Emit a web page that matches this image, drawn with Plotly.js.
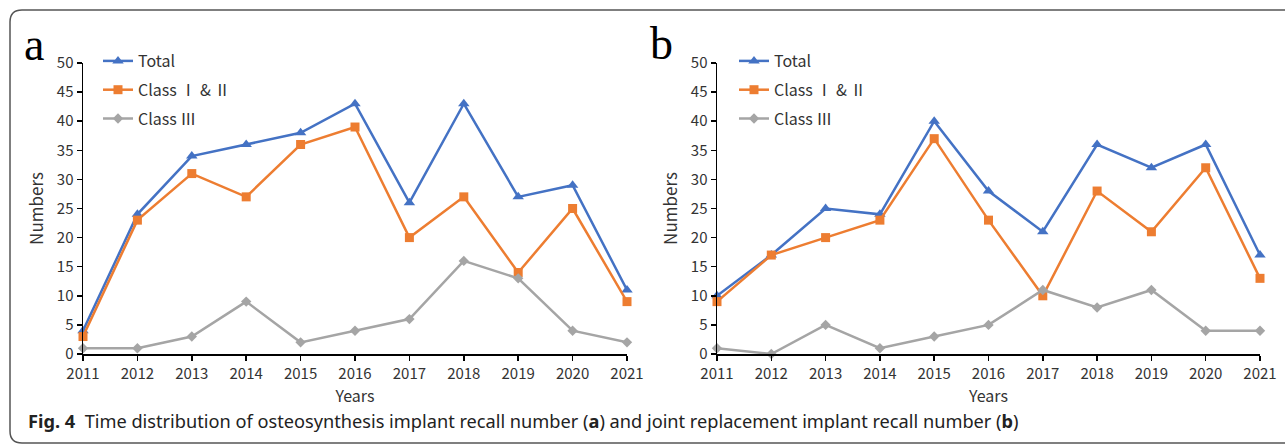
<!DOCTYPE html>
<html>
<head>
<meta charset="utf-8">
<script src="https://cdn.plot.ly/plotly-3.0.1.min.js"></script>
<style>html,body{margin:0;padding:0;background:#fff;}#chart{width:1285px;height:444px;}</style>
</head>
<body>
<div id="chart"></div>
<script>
const years = [2011, 2012, 2013, 2014, 2015, 2016, 2017, 2018, 2019, 2020, 2021];
const aTotal = [4, 24, 34, 36, 38, 43, 26, 43, 27, 29, 11];
const aClass12 = [3, 23, 31, 27, 36, 39, 20, 27, 14, 25, 9];
const aClass3 = [1, 1, 3, 9, 2, 4, 6, 16, 13, 4, 2];
const bTotal = [10, 17, 25, 24, 40, 28, 21, 36, 32, 36, 17];
const bClass12 = [9, 17, 20, 23, 37, 23, 10, 28, 21, 32, 13];
const bClass3 = [1, 0, 5, 1, 3, 5, 11, 8, 11, 4, 4];
const seriesNames = ['Total', 'Class Ⅰ & Ⅱ', 'Class Ⅲ'];

const W = 1285, H = 444;
const px = v => v / W;
const py = v => 1 - v / H;

const colors = ['#4472C4', '#ED7D31', '#A5A5A5'];
const symbols = ['triangle-up', 'square', 'diamond'];
const msizes = [10, 9, 8];
const font = 'Noto Sans CJK SC, Noto Sans, sans-serif';

function mk(y, i, xa, ya, leg, grp) {
  return {
    x: years, y: y, type: 'scatter', mode: 'lines+markers',
    name: seriesNames[i], xaxis: xa, yaxis: ya, legend: leg, legendgroup: grp,
    line: {color: colors[i], width: 2.5},
    marker: {color: colors[i], symbol: symbols[i], size: msizes[i]},
    cliponaxis: false
  };
}

const data = [
  mk(aTotal, 0, 'x', 'y', 'legend', 'a0'),
  mk(aClass12, 1, 'x', 'y', 'legend', 'a1'),
  mk(aClass3, 2, 'x', 'y', 'legend', 'a2'),
  mk(bTotal, 0, 'x2', 'y2', 'legend2', 'b0'),
  mk(bClass12, 1, 'x2', 'y2', 'legend2', 'b1'),
  mk(bClass3, 2, 'x2', 'y2', 'legend2', 'b2')
];

const xCommon = {
  range: [2011, 2021], tickvals: years, ticktext: years.map(String),
  showline: true, linecolor: '#000', linewidth: 1.5, ticks: 'outside', ticklen: 5,
  tickcolor: '#000', tickwidth: 1.5, showgrid: false, zeroline: false,
  tickfont: {family: font, size: 15, color: '#333'},
  title: {text: 'Years', font: {family: font, size: 16, color: '#333'}, standoff: 9}
};
const yCommon = {
  range: [0, 50], dtick: 5, tick0: 0,
  showline: true, linecolor: '#000', linewidth: 1.5, ticks: 'outside', ticklen: 5,
  tickcolor: '#000', tickwidth: 1.5, showgrid: false, zeroline: false,
  tickfont: {family: font, size: 15, color: '#333'},
  title: {text: 'Numbers', font: {family: font, size: 17, color: '#333'}, standoff: 9}
};

const yDom = [py(354), py(63)];

function borderPath() {
  const L = 10, T = 10, B = 443, R = 1300, r = 12;
  return `M ${px(R)},${py(T)} L ${px(L + r)},${py(T)} Q ${px(L)},${py(T)} ${px(L)},${py(T + r)} ` +
         `L ${px(L)},${py(B - r)} Q ${px(L)},${py(B)} ${px(L + r)},${py(B)} L ${px(R)},${py(B)}`;
}

const legendCommon = {
  font: {family: font, size: 16, color: '#333'},
  bgcolor: 'rgba(0,0,0,0)', borderwidth: 0,
  yanchor: 'top', xanchor: 'left',
  traceorder: 'grouped', tracegroupgap: 5, itemwidth: 30
};

const layout = {
  width: W, height: H,
  margin: {l: 0, r: 0, t: 0, b: 0},
  paper_bgcolor: '#fff', plot_bgcolor: 'rgba(0,0,0,0)',
  showlegend: true,
  xaxis: Object.assign({}, xCommon, {domain: [px(83), px(627)], anchor: 'y'}),
  yaxis: Object.assign({}, yCommon, {domain: yDom, anchor: 'x'}),
  xaxis2: Object.assign({}, xCommon, {domain: [px(717), px(1260)], anchor: 'y2'}),
  yaxis2: Object.assign({}, yCommon, {domain: yDom, anchor: 'x2'}),
  legend: Object.assign({}, legendCommon, {x: px(98), y: py(44)}),
  legend2: Object.assign({}, legendCommon, {x: px(734), y: py(44)}),
  shapes: [{type: 'path', xref: 'paper', yref: 'paper', path: borderPath(),
            line: {color: '#555', width: 1.5}}],
  annotations: [
    {text: 'a', xref: 'paper', yref: 'paper', x: px(34), y: py(45), xanchor: 'center', yanchor: 'middle',
     showarrow: false, font: {family: 'Liberation Serif, Times New Roman, serif', size: 46, color: '#000'}},
    {text: 'b', xref: 'paper', yref: 'paper', x: px(662), y: py(43), xanchor: 'center', yanchor: 'middle',
     showarrow: false, font: {family: 'Liberation Serif, Times New Roman, serif', size: 46, color: '#000'}},
    {text: '<b>Fig. 4</b>  Time distribution of osteosynthesis implant recall number (<b>a</b>) and joint replacement implant recall number (<b>b</b>)',
     xref: 'paper', yref: 'paper', x: px(26), y: py(421), xanchor: 'left', yanchor: 'middle',
     showarrow: false, font: {family: 'Noto Sans, Open Sans, sans-serif', size: 18.2, color: '#222'}}
  ]
};

Plotly.newPlot('chart', data, layout, {displayModeBar: false, staticPlot: true});
</script>
</body>
</html>
